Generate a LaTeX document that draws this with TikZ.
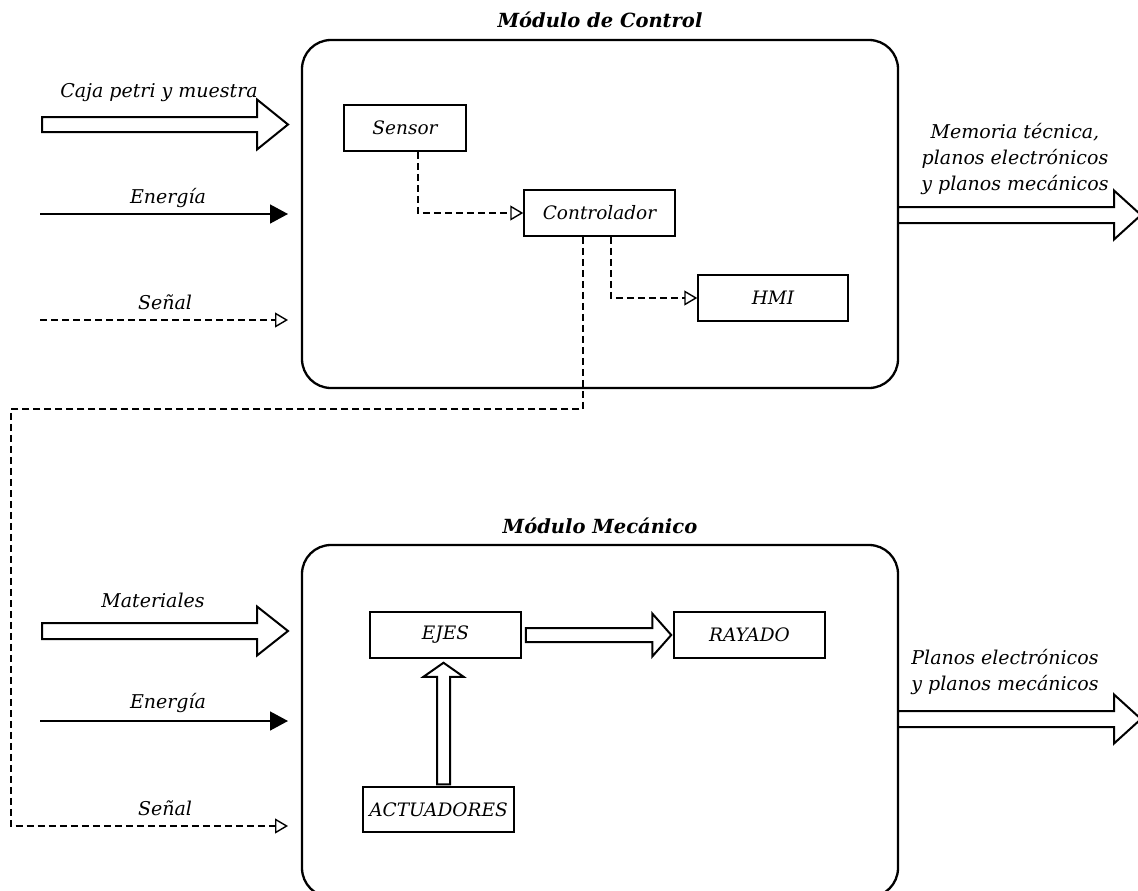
\documentclass[tikz,border=0pt]{standalone}
\usepackage{fontspec}
\setmainfont{DejaVu Serif}
\usetikzlibrary{arrows.meta,calc}
% horizontal block arrow: start, end, shaft half-height, head half-height, head length
\newcommand{\harrow}[5]{%
  \draw[barrow] let \p1=(#1), \p2=(#2) in
   (\x1,\y1+#3) -- (\x2-#5,\y1+#3) -- (\x2-#5,\y1+#4) -- (\x2,\y1)
   -- (\x2-#5,\y1-#4) -- (\x2-#5,\y1-#3) -- (\x1,\y1-#3) -- cycle;}
% upward block arrow
\newcommand{\varrow}[5]{%
  \draw[barrow] let \p1=(#1), \p2=(#2) in
   (\x1+#3,\y1) -- (\x1+#3,\y2-#5) -- (\x1+#4,\y2-#5) -- (\x1,\y2)
   -- (\x1-#4,\y2-#5) -- (\x1-#3,\y2-#5) -- (\x1-#3,\y1) -- cycle;}
\begin{document}
\begin{tikzpicture}[x=1pt,y=-1pt,
  module/.style={draw, line width=2.3pt, rounded corners=29pt, inner sep=0pt},
  stagebox/.style={draw, line width=1.5pt, inner sep=0pt, minimum height=46pt,
     font=\itshape\fontsize{18.5}{22}\selectfont},
  title/.style={font=\bfseries\itshape\fontsize{19.5}{23}\selectfont},
  lbl/.style={font=\itshape\fontsize{19}{26}\selectfont, inner sep=0pt},
  barrow/.style={draw, line width=2pt, fill=white, line join=miter},
  en/.style={line width=1.5pt, -{Triangle[length=18pt,width=19pt]}},
  sig/.style={line width=1.4pt, dash pattern=on 7pt off 4pt,
     -{Triangle[open,length=13pt,width=15pt,line width=1.4pt]}},
]
\useasboundingbox (0,0) rectangle (1138,891);
\clip (0,0) rectangle (1138,891);

% ---------------- Control module
\node[module, minimum width=596pt, minimum height=348pt] (mc) at (600,214) {};
\node[title, anchor=base] (mct) at ($(mc.north)+(0,-11)$) {Módulo de Control};

\node[stagebox, minimum width=122pt] (sensor) at (405,128) {Sensor};
\node[stagebox, minimum width=151pt] (ctrl) at (599.5,213) {Controlador};
\node[stagebox, minimum width=150pt] (hmi) at (773,298) {HMI};

\draw[sig] ([xshift=13pt]sensor.south) |- (ctrl.west);
\draw[sig] ([xshift=11.5pt]ctrl.south) |- (hmi.west);

% inputs top
\coordinate (cajaS) at (42,124.5);
\coordinate (cajaE) at (288,124.5);
\harrow{cajaS}{cajaE}{7.5pt}{25pt}{31pt}
\node[lbl] (cajaL) at (159,93) {Caja petri y muestra};

\coordinate (en1S) at (40,214);
\coordinate (en1E) at (288,214);
\draw[en] (en1S) -- (en1E);
\node[lbl] (en1L) at (168,198) {Energía};

\coordinate (sg1S) at (40,320);
\coordinate (sg1E) at (288,320);
\draw[sig] (sg1S) -- (sg1E);
\node[lbl] (sg1L) at (165,302) {Señal};

% output top
\coordinate (out1S) at (898,215);
\coordinate (out1E) at (1141,215);
\harrow{out1S}{out1E}{8pt}{24.5pt}{27pt}
\node[lbl, align=center] (out1L) at (1015,159)
  {Memoria técnica,\\planos electrónicos\\y planos mecánicos};

% ---------------- Mechanical module
\node[module, minimum width=596pt, minimum height=352pt] (mm) at (600,721) {};
\node[title, anchor=base] (mmt) at ($(mm.north)+(0,-10)$) {Módulo Mecánico};

\node[stagebox, minimum width=151pt] (ejes) at (445.5,635) {EJES};
\node[stagebox, minimum width=151pt] (rayado) at (749.5,635) {RAYADO};
\node[stagebox, minimum width=151pt, minimum height=45pt] (act) at (438.5,809.5) {ACTUADORES};

\harrow{[xshift=4pt]ejes.east}{[xshift=-2pt]rayado.west}{7pt}{21.5pt}{19pt}
\varrow{[xshift=5pt,yshift=2pt]act.north}{[xshift=-2pt,yshift=-4pt]ejes.south -| act.north}{6.5pt}{20pt}{14pt}

% inputs bottom
\coordinate (matS) at (42,631);
\coordinate (matE) at (288,631);
\harrow{matS}{matE}{8pt}{24.5pt}{31pt}
\node[lbl] (matL) at (153,600) {Materiales};

\coordinate (en2S) at (40,721);
\coordinate (en2E) at (288,721);
\draw[en] (en2S) -- (en2E);
\node[lbl] (en2L) at (168,703) {Energía};

\coordinate (sg2E) at (288,826);
\coordinate (bendA) at (11,409);
\draw[sig] ([xshift=-16.5pt]ctrl.south) |- (bendA) |- (sg2E);
\node[lbl] (sg2L) at (165,808) {Señal};

% output bottom
\coordinate (out2S) at (898,719);
\coordinate (out2E) at (1141,719);
\harrow{out2S}{out2E}{8pt}{24.5pt}{27pt}
\node[lbl, align=left] (out2L) at (1005,672)
  {Planos electrónicos\\y planos mecánicos};
\end{tikzpicture}
\end{document}
